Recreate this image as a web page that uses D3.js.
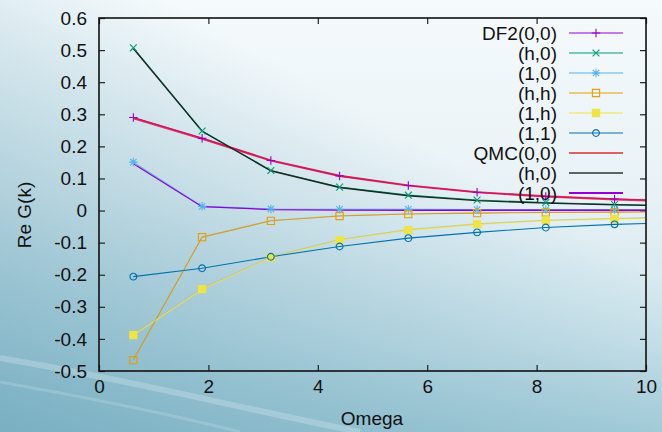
<!DOCTYPE html>
<html>
<head>
<meta charset="utf-8">
<script src="https://cdn.jsdelivr.net/npm/d3@7"></script>
<style>
	body { margin: 0; padding: 0; overflow: hidden; }
	.canvas text { font-family: 'Liberation Sans', Arial, sans-serif; fill: #111; }
</style>
</head>
<body>
<div class="canvas"></div>
<script>
// podaci - Matsubara frekvencije
const omega = [0.628, 1.885, 3.142, 4.398, 5.655, 6.912, 8.168, 9.425, 10.681];

const df2_00 = [0.290, 0.225, 0.156, 0.108, 0.078, 0.057, 0.044, 0.036, 0.029];
const df2_h0 = [0.507, 0.248, 0.125, 0.073, 0.048, 0.033, 0.025, 0.019, 0.015];
const df2_10 = [0.151, 0.013, 0.005, 0.004, 0.004, 0.003, 0.003, 0.003, 0.002];
const df2_hh = [-0.466, -0.083, -0.032, -0.017, -0.011, -0.008, -0.006, -0.005, -0.004];
const df2_1h = [-0.388, -0.245, -0.146, -0.092, -0.061, -0.043, -0.031, -0.026, -0.021];
const df2_11 = [-0.206, -0.180, -0.144, -0.112, -0.086, -0.068, -0.053, -0.043, -0.037];

const qmc_00 = [0.288, 0.224, 0.156, 0.108, 0.078, 0.057, 0.044, 0.035, 0.028];
const qmc_h0 = [0.505, 0.247, 0.124, 0.072, 0.046, 0.031, 0.023, 0.018, 0.014];
const qmc_10 = [0.146, 0.012, 0.003, 0.001, 0.001, 0.001, 0.001, 0.001, 0.001];
const qmc_hh = [-0.464, -0.082, -0.031, -0.016, -0.010, -0.007, -0.005, -0.004, -0.003];
const qmc_1h = [-0.386, -0.243, -0.144, -0.090, -0.059, -0.041, -0.030, -0.024, -0.020];

const legendNames = ['DF2(0,0)', '(h,0)', '(1,0)', '(h,h)', '(1,h)', '(1,1)', 'QMC(0,0)', '(h,0)', '(1,0)'];
const xTicks = [0, 2, 4, 6, 8, 10];
const yTicks = [-0.5, -0.4, -0.3, -0.2, -0.1, 0, 0.1, 0.2, 0.3, 0.4, 0.5, 0.6];

// serije: podaci + stil
const series = [
	{ name: legendNames[0], values: df2_00, colour: '#9400d3', marker: 'plus', width: 1.1 },
	{ name: legendNames[1], values: df2_h0, colour: '#009e73', marker: 'cross', width: 1.1 },
	{ name: legendNames[2], values: df2_10, colour: '#56b4e9', marker: 'star', width: 1.1 },
	{ name: legendNames[3], values: df2_hh, colour: '#e69f00', marker: 'square', width: 1.1 },
	{ name: legendNames[4], values: df2_1h, colour: '#f0e442', marker: 'fsquare', width: 1.1 },
	{ name: legendNames[5], values: df2_11, colour: '#0072b2', marker: 'circle', width: 1.1 },
	{ name: legendNames[6], values: qmc_00, colour: '#dc1448', marker: null, width: 2.2 },
	{ name: legendNames[7], values: qmc_h0, colour: '#1a2a22', marker: null, width: 1.4 },
	{ name: legendNames[8], values: qmc_10, colour: '#9400d3', marker: null, width: 1.3 },
	{ name: null, values: qmc_hh, colour: '#9a9a8a', marker: null, width: 0.7 },
	{ name: null, values: qmc_1h, colour: '#a0a090', marker: null, width: 0.7 }
];

// selektiranje svg elementa
const svg = d3
	.select('.canvas')
	.append('svg')
	.attr('width', 662)
	.attr('height', 432);

// pozadina - gradijent
const defs = svg.append('defs');
const bg = defs.append('linearGradient').attr('id', 'bg')
	.attr('x1', 0).attr('y1', 0).attr('x2', 0).attr('y2', 1);
bg.append('stop').attr('offset', '0%').attr('stop-color', '#f5fafc');
bg.append('stop').attr('offset', '45%').attr('stop-color', '#e8f2f6');
bg.append('stop').attr('offset', '80%').attr('stop-color', '#cde4ec');
bg.append('stop').attr('offset', '100%').attr('stop-color', '#b2d5e0');
const shade = defs.append('linearGradient').attr('id', 'shade')
	.attr('x1', 0).attr('y1', 1).attr('x2', 0.6).attr('y2', 0.3);
shade.append('stop').attr('offset', '0%').attr('stop-color', '#6fa9bd').attr('stop-opacity', 0.85);
shade.append('stop').attr('offset', '100%').attr('stop-color', '#6fa9bd').attr('stop-opacity', 0);

svg.append('rect').attr('width', 662).attr('height', 432).attr('fill', 'url(#bg)');
svg.append('rect').attr('width', 662).attr('height', 432).attr('fill', 'url(#shade)');
svg.append('path')
	.attr('d', 'M0,358 C120,378 240,408 360,432')
	.attr('fill', 'none').attr('stroke', '#ffffff').attr('stroke-opacity', 0.22).attr('stroke-width', 6);
svg.append('path')
	.attr('d', 'M0,382 C90,398 170,414 240,432')
	.attr('fill', 'none').attr('stroke', '#ffffff').attr('stroke-opacity', 0.16).attr('stroke-width', 3);

// kreiranje margina
const margin = { top: 18, right: 16, bottom: 61, left: 99 };
const diagramWidth = 662 - margin.left - margin.right;
const diagramHeight = 432 - margin.top - margin.bottom;

const diagram = svg
	.append('g')
	.attr('transform', `translate(${margin.left}, ${margin.top})`);

const x = d3.scaleLinear().domain([0, 10]).range([0, diagramWidth]);
const y = d3.scaleLinear().domain([-0.5, 0.6]).range([diagramHeight, 0]);

// osi (tickovi prema unutra, kao gnuplot)
const fmt = (d) => (d === 0 ? '0' : d.toFixed(1));
const xAxis = d3.axisBottom(x).tickValues(xTicks).tickSizeInner(-6).tickSizeOuter(0).tickPadding(9);
const yAxis = d3.axisLeft(y).tickValues(yTicks).tickFormat(fmt).tickSizeInner(-6).tickSizeOuter(0).tickPadding(12);
const xAxisTop = d3.axisTop(x).tickValues(xTicks).tickFormat('').tickSizeInner(-6).tickSizeOuter(0);
const yAxisRight = d3.axisRight(y).tickValues(yTicks).tickFormat('').tickSizeInner(-6).tickSizeOuter(0);

const styleAxis = (g) => {
	g.select('.domain').remove();
	g.selectAll('line').attr('stroke', '#222').attr('stroke-width', 1.2);
	g.selectAll('text').attr('font-size', 19).attr('font-family', "'Liberation Sans', Arial, sans-serif").attr('fill', '#111');
};

diagram.append('g').attr('transform', `translate(0, ${diagramHeight})`).call(xAxis).call(styleAxis);
diagram.append('g').call(yAxis).call(styleAxis);
diagram.append('g').call(xAxisTop).call(styleAxis);
diagram.append('g').attr('transform', `translate(${diagramWidth}, 0)`).call(yAxisRight).call(styleAxis);

// clip za linije
defs.append('clipPath').attr('id', 'clip')
	.append('rect').attr('width', diagramWidth).attr('height', diagramHeight);

const plot = diagram.append('g').attr('clip-path', 'url(#clip)');

const line = d3.line()
	.x((d, i) => x(omega[i]))
	.y((d) => y(d));

// markeri
const markerPath = (type, s) => {
	const h = s / 2;
	switch (type) {
		case 'plus':
			return `M${-h},0H${h}M0,${-h}V${h}`;
		case 'cross':
			return `M${-h * 0.8},${-h * 0.8}L${h * 0.8},${h * 0.8}M${-h * 0.8},${h * 0.8}L${h * 0.8},${-h * 0.8}`;
		case 'star':
			return `M${-h},0H${h}M0,${-h}V${h}M${-h * 0.75},${-h * 0.75}L${h * 0.75},${h * 0.75}M${-h * 0.75},${h * 0.75}L${h * 0.75},${-h * 0.75}`;
		case 'square':
		case 'fsquare':
			return `M${-h * 0.85},${-h * 0.85}H${h * 0.85}V${h * 0.85}H${-h * 0.85}Z`;
		case 'circle':
			return d3.arc()({ innerRadius: 0, outerRadius: h * 0.8, startAngle: 0, endAngle: 2 * Math.PI });
		default:
			return '';
	}
};

const drawMarker = (g, s, cx, cy) => {
	g.append('path')
		.attr('d', markerPath(s.marker, 8.5))
		.attr('transform', `translate(${cx}, ${cy})`)
		.attr('fill', s.marker === 'fsquare' ? s.colour : 'none')
		.attr('stroke', s.colour)
		.attr('stroke-width', 1.1);
};

// redoslijed crtanja: DF2 ispod, QMC preko
const order = [0, 1, 2, 3, 4, 5, 9, 10, 6, 7, 8];
order.forEach((k) => {
	const s = series[k];
	plot.append('path')
		.attr('d', line(s.values))
		.attr('fill', 'none')
		.attr('stroke', s.colour)
		.attr('stroke-width', s.width)
		.attr('stroke-opacity', k === 6 ? 0.85 : (k >= 9 ? 0.5 : 1));
});
series.forEach((s) => {
	if (!s.marker) return;
	s.values.forEach((v, i) => drawMarker(plot, s, x(omega[i]), y(v)));
});

// okvir
diagram.append('rect')
	.attr('width', diagramWidth)
	.attr('height', diagramHeight)
	.attr('fill', 'none')
	.attr('stroke', '#111')
	.attr('stroke-width', 1.6);

// legenda
const legend = svg.append('g');
series.filter((s) => s.name).forEach((s, i) => {
	const ly = 33 + i * 20;
	legend.append('text')
		.attr('x', 557)
		.attr('y', ly)
		.attr('dy', '0.35em')
		.attr('text-anchor', 'end')
		.attr('font-size', 19)
		.text(s.name);
	legend.append('line')
		.attr('x1', 569).attr('x2', 623)
		.attr('y1', ly).attr('y2', ly)
		.attr('stroke', i === 6 ? '#e06060' : s.colour)
		.attr('stroke-width', i >= 6 ? 1.8 : s.width)
		.attr('stroke-opacity', i === 7 ? 0.7 : 1);
	if (s.marker) drawMarker(legend, s, 596, ly);
});

// naslovi osi
svg.append('text')
	.attr('x', 372)
	.attr('y', 418)
	.attr('dy', '0.35em')
	.attr('text-anchor', 'middle')
	.attr('font-size', 19)
	.text('Omega');

svg.append('text')
	.attr('transform', 'translate(24, 215) rotate(-90)')
	.attr('dy', '0.35em')
	.attr('text-anchor', 'middle')
	.attr('font-size', 19)
	.text('Re G(k)');
</script>
</body>
</html>
